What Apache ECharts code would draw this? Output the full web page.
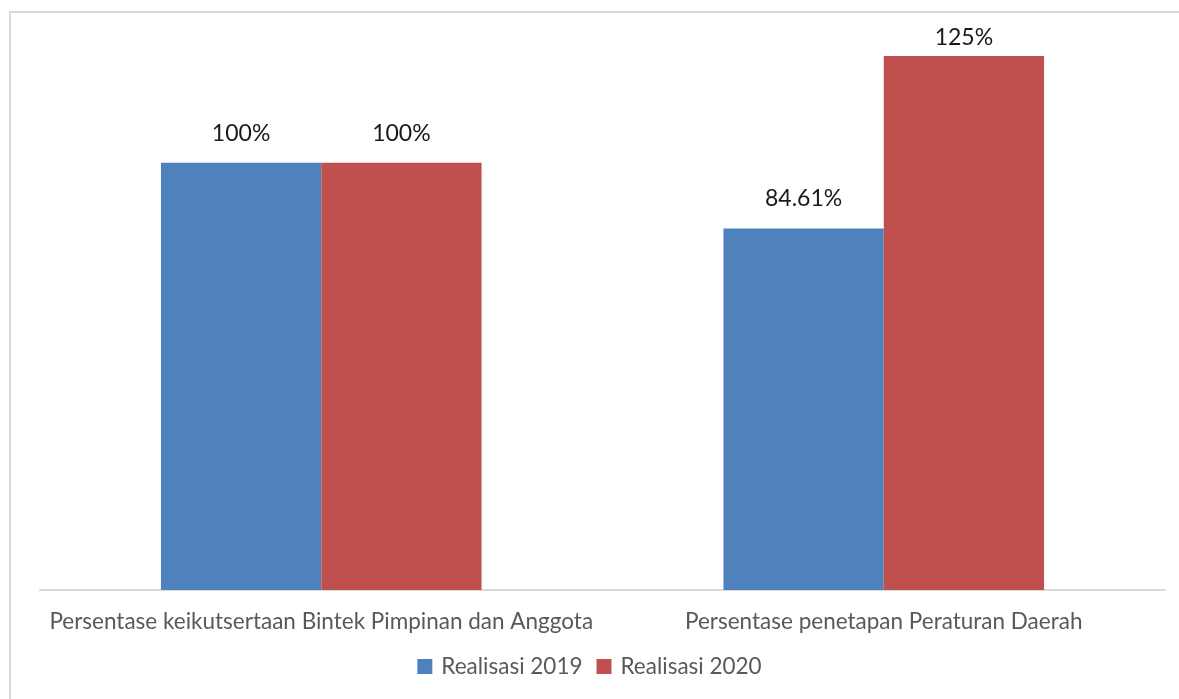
<!DOCTYPE html>
<html>
<head>
<meta charset="utf-8">
<script src="https://cdn.jsdelivr.net/npm/echarts@6/dist/echarts.min.js"></script>
<style>
  html, body { margin: 0; padding: 0; background: #fff; }
  #chart-panel { width: 1179px; height: 699px; }
</style>
</head>
<body>
<div id="chart-panel"></div>
<script>
(function () {
  var myChart = echarts.init(document.querySelector('#chart-panel'));

  var categories = ['Persentase keikutsertaan Bintek Pimpinan dan Anggota', 'Persentase penetapan Peraturan Daerah'];
  var seriesNames = ['Realisasi 2019', 'Realisasi 2020'];
  var realisasi2019 = [100, 84.61];
  var realisasi2020 = [100, 125];
  var labels2019 = ['100%', '84.61%'];
  var labels2020 = ['100%', '125%'];

  var fontFamily = 'Lato, "Open Sans", sans-serif';

  function toData(values, texts) {
    return values.map(function (v, i) {
      var item = { value: v, labelText: texts[i] };
      // Excel pulls the label closer when it hits the top of the plot area
      if (v >= 125) item.label = { distance: 7 };
      return item;
    });
  }

  function labelOpt() {
    return {
      show: true,
      position: 'top',
      distance: 18,
      color: '#1a1a1a',
      fontSize: 23,
      fontFamily: fontFamily,
      formatter: function (p) { return p.data.labelText; }
    };
  }

  var option = {
    animation: false,
    backgroundColor: '#fff',
    graphic: [{
      type: 'rect',
      shape: { x: 10, y: 12, width: 1200, height: 720 },
      style: { fill: 'none', stroke: '#d9d9d9', lineWidth: 2 },
      silent: true
    }],
    legend: {
      data: seriesNames,
      bottom: 16,
      left: 'center',
      itemWidth: 15,
      itemHeight: 15,
      itemGap: 14,
      icon: 'rect',
      textStyle: { color: '#595959', fontSize: 22.5, fontFamily: fontFamily, padding: [0, 0, 0, 4] }
    },
    grid: { left: 40, right: 14, top: 56, bottom: 109, containLabel: false },
    xAxis: {
      type: 'category',
      data: categories,
      axisLine: { lineStyle: { color: '#d9d9d9', width: 2 } },
      axisTick: { show: false },
      axisLabel: { color: '#595959', fontSize: 22.5, fontFamily: fontFamily, margin: 20, interval: 0 }
    },
    yAxis: {
      type: 'value',
      min: 0,
      max: 125,
      show: false,
      splitLine: { show: false }
    },
    series: [
      {
        name: seriesNames[0],
        type: 'bar',
        data: toData(realisasi2019, labels2019),
        itemStyle: { color: '#4f81bd' },
        barGap: '0%',
        barCategoryGap: '43%',
        label: labelOpt()
      },
      {
        name: seriesNames[1],
        type: 'bar',
        data: toData(realisasi2020, labels2020),
        itemStyle: { color: '#c0504d' },
        label: labelOpt()
      }
    ]
  };

  myChart.setOption(option);
})();
</script>
</body>
</html>
